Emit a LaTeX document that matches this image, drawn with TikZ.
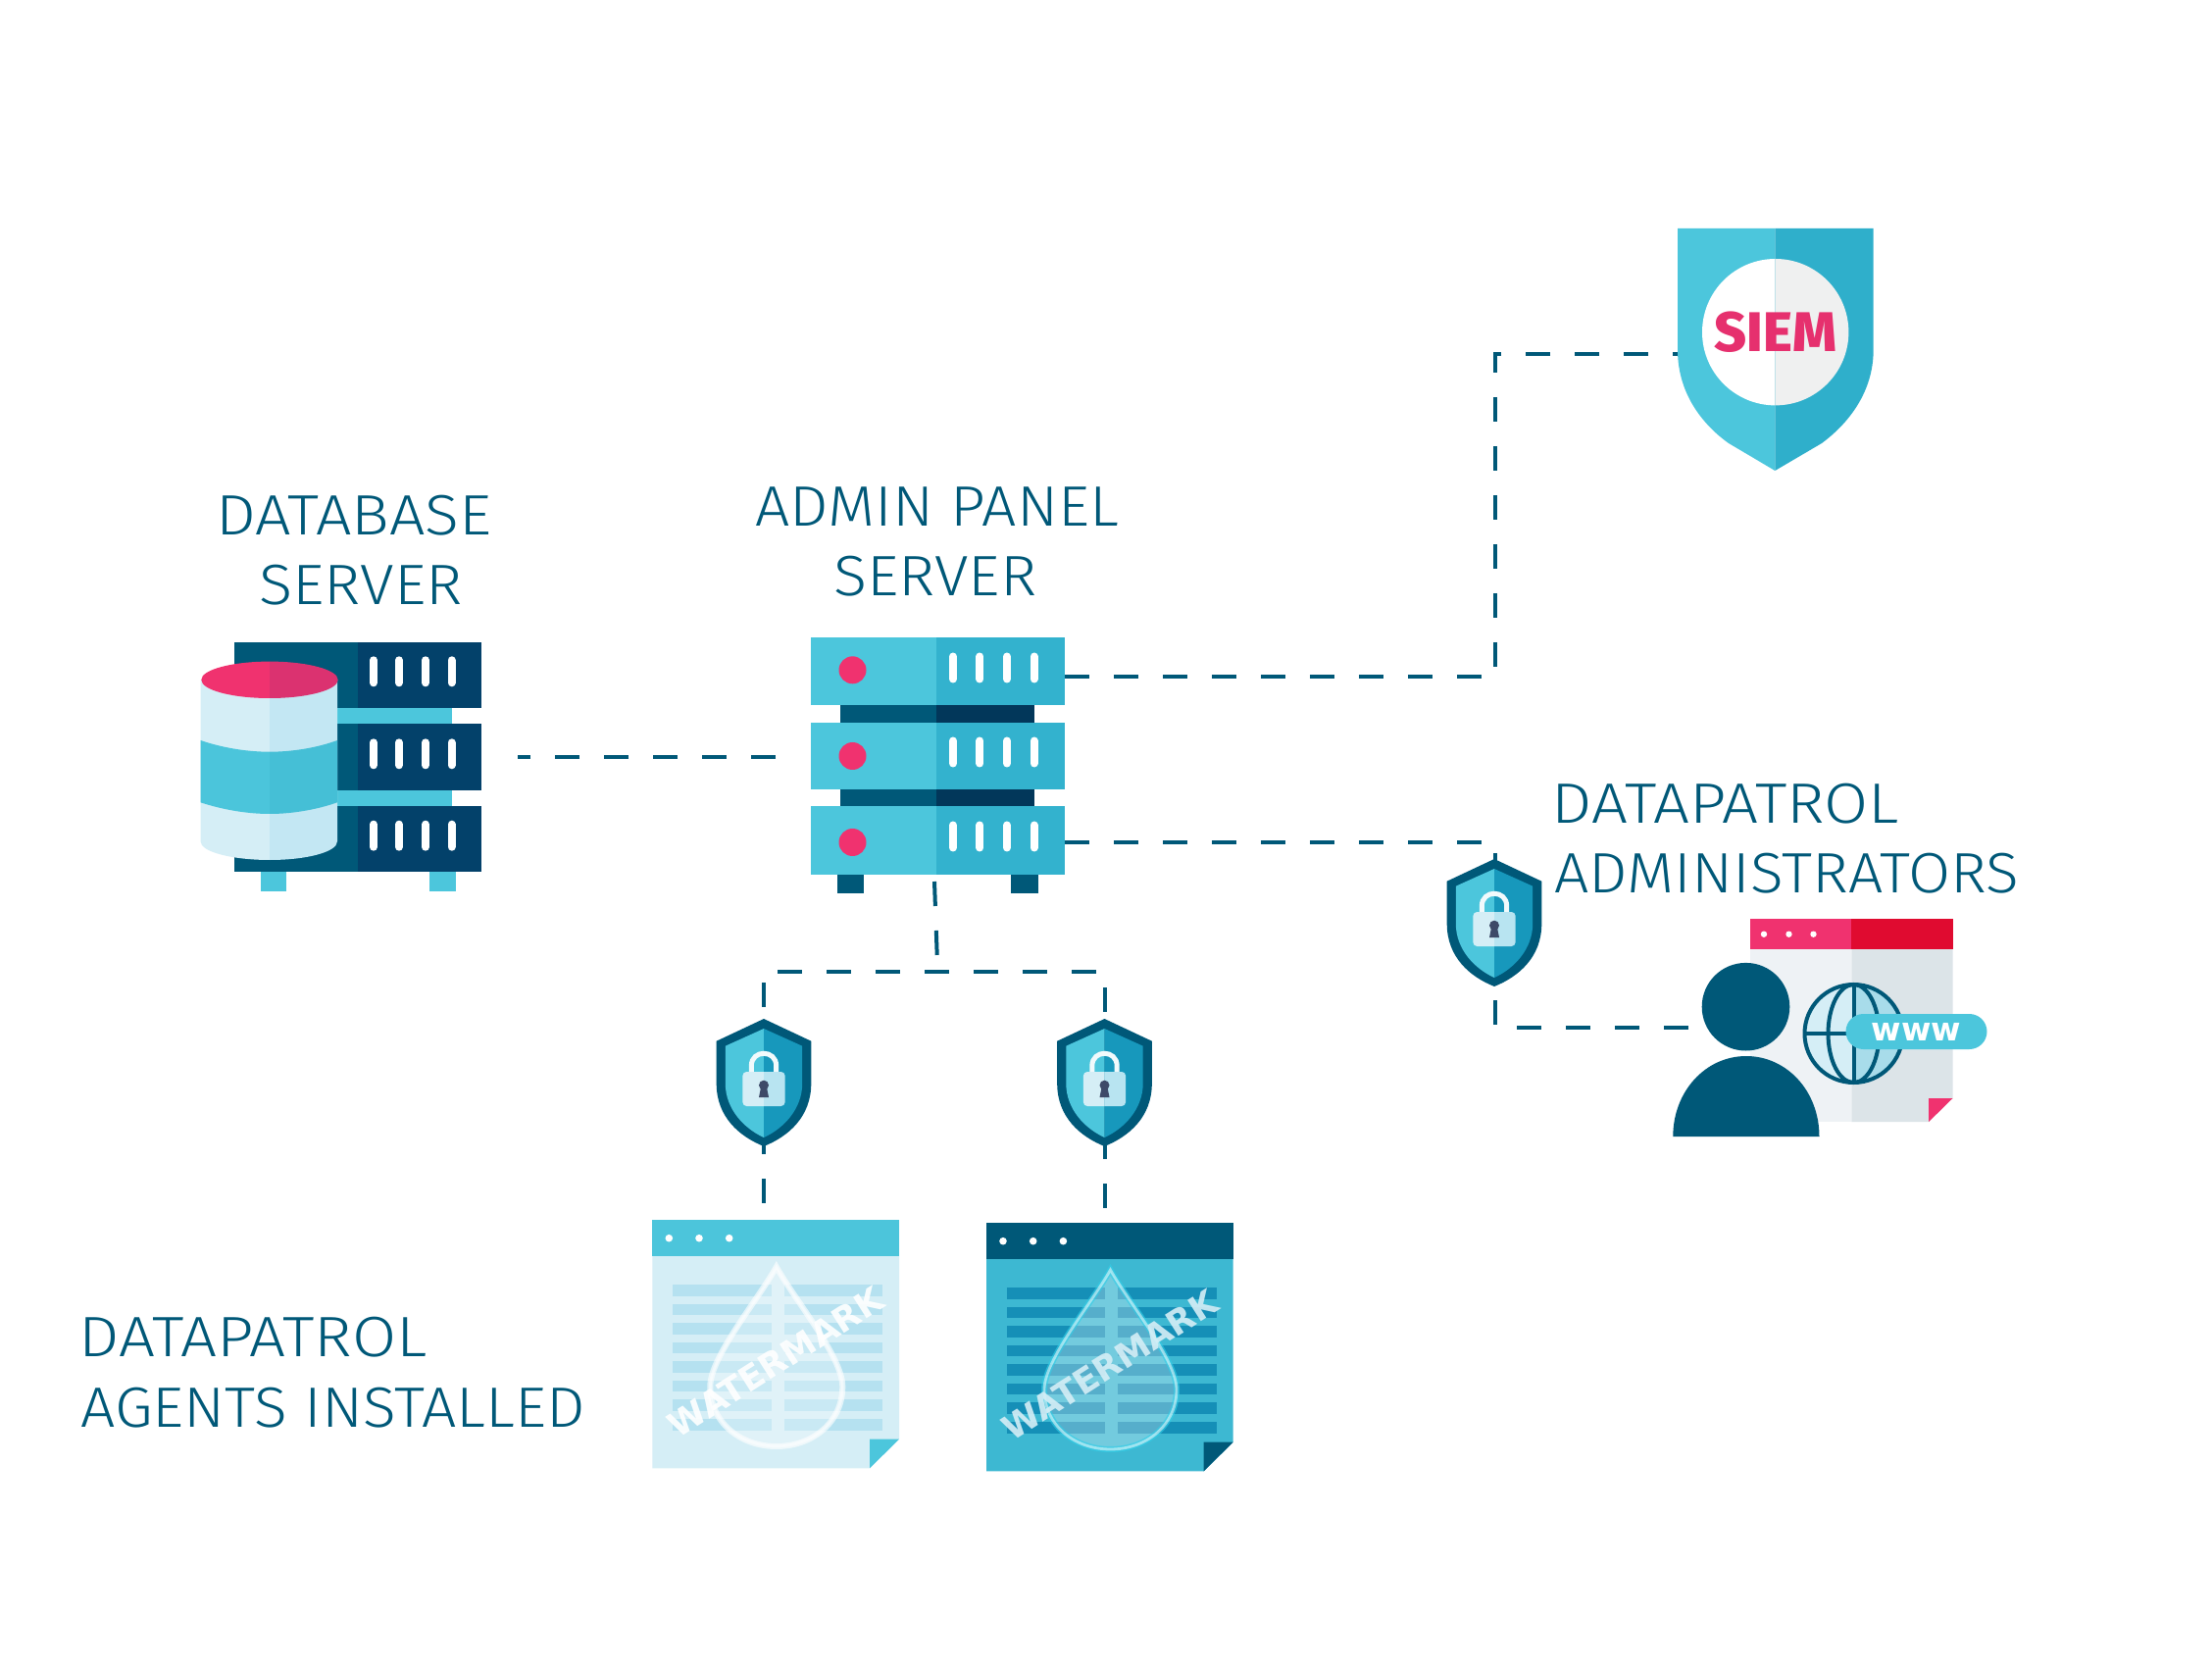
\documentclass[tikz,border=0pt]{standalone}
\usepackage{graphicx}
\usepackage{fontspec}
\setmainfont{Fira Sans Light}
\newfontfamily\labelfont{Fira Sans Light}
\newfontfamily\heavyfont{Fira Sans ExtraBold}
\newfontfamily\markfont{DejaVu Sans Bold}
\definecolor{navy}{HTML}{005878}
\definecolor{navyD}{HTML}{03416A}
\definecolor{navyE}{HTML}{02375A}
\definecolor{cyanL}{HTML}{4CC6DC}
\definecolor{cyanD}{HTML}{33B2CE}
\definecolor{pinkA}{HTML}{F0326F}
\definecolor{redA}{HTML}{E00B30}
\definecolor{paleA}{HTML}{D5EEF6}
\definecolor{paleB}{HTML}{C3E7F3}
\definecolor{shieldR}{HTML}{1798BC}
\definecolor{lockR}{HTML}{B8E4F1}
\definecolor{keyh}{HTML}{3D4A68}
\definecolor{bandL}{HTML}{4BC5DB}
\definecolor{bandR}{HTML}{45BFD6}
\definecolor{topR}{HTML}{DB3270}
\definecolor{siemR}{HTML}{2FAFCB}
\definecolor{greyR}{HTML}{EFF0F0}
\definecolor{siemT}{HTML}{E6306E}
\definecolor{docHdr}{HTML}{4CC5DB}
\definecolor{docRow}{HTML}{B5E1F0}
\definecolor{docB}{HTML}{3DB8D2}
\definecolor{docBRow}{HTML}{158FB7}
\definecolor{dropC}{HTML}{30CFE8}
\definecolor{webL}{HTML}{EEF2F5}
\definecolor{webR}{HTML}{DCE4E8}
\definecolor{globeR}{HTML}{A8DCEA}
\tikzset{
  link/.style={draw=navy,line width=2pt,dash pattern=on 12.5pt off 12.5pt},
  lbl/.style={anchor=base west,inner sep=0pt,text=navy,font=\labelfont\fontsize{29}{35}\selectfont},
  slot/.style={line cap=round,line width=4pt,draw=white}
}
\newcommand{\lab}[2]{\resizebox{\dimexpr#1pt/2\relax}{\height}{#2}}
\newcommand{\rackslots}[5]{%
  \foreach \sx in {#1,#2,#3,#4}{\draw[slot] (\sx,#5) -- ++(0,23);}
}
\newcommand{\lockshield}[2]{%
\begin{scope}[shift={(#1,#2)}]
  \def\outer{(0,0) -- (48.3,22.7) -- (48.3,66) .. controls (48.3,100) and (25,120) .. (0,130) .. controls (-25,120) and (-48.3,100) .. (-48.3,66) -- (-48.3,22.7) -- cycle}
  \def\inner{(0,10) -- (39.2,27.7) -- (39.2,66) .. controls (39.2,92) and (20,112) .. (0,121) .. controls (-20,112) and (-39.2,92) .. (-39.2,66) -- (-39.2,27.7) -- cycle}
  \fill[navy] \outer;
  \begin{scope}\clip (-50,0) rectangle (0,135); \fill[cyanL] \inner; \end{scope}
  \begin{scope}\clip (0,0) rectangle (50,135); \fill[shieldR] \inner; \end{scope}
  \draw[line width=2.5pt,draw=white!92!cyanL] (-12.7,56) -- (-12.7,48) .. controls (-12.7,31) and (12.7,31) .. (12.7,48) -- (12.7,56);
  \begin{scope}\clip (-25,50) rectangle (0,95); \fill[paleA,rounded corners=2pt] (-21.6,54) rectangle (21.6,89); \end{scope}
  \begin{scope}\clip (0,50) rectangle (25,95); \fill[lockR,rounded corners=2pt] (-21.6,54) rectangle (21.6,89); \end{scope}
  \fill[keyh] (0,67.7) circle [radius=5];
  \fill[keyh] (-3,70) -- (3,70) -- (5,80) -- (-5,80) -- cycle;
\end{scope}}
\newcommand{\wmdoc}[8]{%
\begin{scope}[shift={(#1,#2)}]
  \fill[#3] (0,0) -- (251.7,0) -- (251.7,223.7) -- (221.7,253.3) -- (0,253.3) -- cycle;
  \fill[#4] (0,0) rectangle (251.7,36.7);
  \foreach \dx in {17,47.7,78.4}{\fill[white] (\dx,18.7) circle [radius=3.8];}
  \foreach \k in {0,...,7}{
    \fill[#5] (20.7,66+19.55*\k) rectangle (121.2,77.7+19.55*\k);
    \fill[#5] (134.3,66+19.55*\k) rectangle (234.7,77.7+19.55*\k);
  }
  \fill[#6] (221.7,223.7) -- (251.7,223.7) -- (221.7,253.3) -- cycle;
  \def\drop{(126.5,48) .. controls (106,84) and (59,140) .. (59,170) .. controls (59,206) and (89,231) .. (126.5,231) .. controls (164,231) and (194,206) .. (194,170) .. controls (194,140) and (147,84) .. (126.5,48) -- cycle}
  \fill[white,fill opacity=.28] \drop;
  \draw[#7,line width=3pt,draw opacity=.6] \drop;
  \draw[white,line width=1.4pt,draw opacity=.5] \drop;
  \node[text=#8,text opacity=.9,rotate=32.5,font=\markfont\fontsize{17.5}{20}\selectfont,inner sep=0pt] at (126,145) {WATERMARK};
\end{scope}}
\begin{document}
\begin{tikzpicture}[x=.5pt,y=-.5pt]
\useasboundingbox (0,0) rectangle (2256,1700);
\fill[white] (0,0) rectangle (2256,1700);
% ---------- connector anchors
\coordinate (dbEnd) at (528,772);
\coordinate (adminL) at (791,772);
\coordinate (adminT) at (1086,690);
\coordinate (adminTe) at (1511,690);
\coordinate (adminB) at (1086,859);
\coordinate (adminBe) at (1511,859);
\coordinate (siemA) at (1731,361);
\coordinate (siemB) at (1525,361);
\coordinate (siemC) at (1525,680);
\coordinate (admA) at (1525,870);
\coordinate (admB) at (1525,1048);
\coordinate (admC) at (1723,1048);
\coordinate (stubA) at (953,899);
\coordinate (stubB) at (955.7,974);
\coordinate (busL) at (793,991);
\coordinate (busR) at (1118,991);
\coordinate (dropLa) at (779,1002);
\coordinate (dropLb) at (779,1227);
\coordinate (dropRa) at (1127,1007);
\coordinate (dropRb) at (1127,1232);
% ---------- connectors
\draw[link] (adminL) -- (dbEnd);
\draw[link] (adminT) -- (adminTe);
\draw[link] (adminB) -- (adminBe);
\draw[link] (siemA) -- (siemB) -- (siemC);
\draw[link] (admA) -- (admB) -- (admC);
\draw[link] (stubA) -- (stubB);
\draw[link] (busL) -- (busR);
\draw[link] (dropLa) -- (dropLb);
\draw[link] (dropRa) -- (dropRb);
% ---------- database server
\fill[cyanL] (266,889) rectangle (292,908.7);
\fill[cyanL] (438,889) rectangle (465,908.7);
\fill[cyanL] (340,722) rectangle (461,739);
\fill[cyanL] (340,805) rectangle (461,823);
\foreach \ya/\yb in {655/722.3,738.3/805.7,822/889.3}{
  \fill[navy] (238.8,\ya) rectangle (365,\yb);
  \fill[navyD] (365,\ya) rectangle (491,\yb);
}
\foreach \yy in {673.3,757.3,840.7}{\rackslots{381}{407}{434}{460.5}{\yy}}
\def\cylbody{(204.5,693.3) -- (204.5,858) .. controls (204.5,869) and (238,877) .. (275,877) .. controls (312,877) and (344,869) .. (344,858) -- (344,693.3) -- cycle}
\def\cylband{(204.5,755) .. controls (225,762) and (250,766.7) .. (275,766.7) .. controls (300,766.7) and (325,762) .. (344,755) -- (344,818.3) .. controls (325,825) and (300,830) .. (275,830) .. controls (250,830) and (225,825) .. (204.5,818.3) -- cycle}
\begin{scope}
  \clip (200,660) rectangle (275,880);
  \fill[paleA] \cylbody; \fill[bandL] \cylband;
  \fill[pinkA] (275,693.3) ellipse [x radius=69.7,y radius=18.7];
\end{scope}
\begin{scope}
  \clip (275,660) rectangle (350,880);
  \fill[paleB] \cylbody; \fill[bandR] \cylband;
  \fill[topR] (275,693.3) ellipse [x radius=69.7,y radius=18.7];
\end{scope}
% ---------- admin panel server
\fill[navy] (853.6,891) rectangle (881,911.3);
\fill[navy] (1031,891) rectangle (1059,911.3);
\fill[navy] (857,719) rectangle (955,737);
\fill[navyE] (955,719) rectangle (1055,737);
\fill[navy] (857,805) rectangle (955,823);
\fill[navyE] (955,805) rectangle (1055,823);
\foreach \ya/\yb in {650.3/719.3,736.7/805.3,822.3/891.7}{
  \fill[cyanL] (826.7,\ya) rectangle (955,\yb);
  \fill[cyanD] (955,\ya) rectangle (1085.7,\yb);
}
\foreach \yy in {683.3,771,859}{\fill[pinkA] (869.5,\yy) circle [radius=14];}
\foreach \yy in {669.5,755.5,841.5}{\rackslots{972}{999.4}{1027}{1054.5}{\yy}}
% ---------- SIEM shield
\def\siemshape{(1711,233) -- (1910.7,233) -- (1910.7,356.7) .. controls (1910.7,400) and (1885,432) .. (1858,452) -- (1810.3,480) -- (1763,452) .. controls (1735,432) and (1711,400) .. (1711,356.7) -- cycle}
\begin{scope}\clip (1700,220) rectangle (1810.3,490); \fill[cyanL] \siemshape; \fill[white] (1810.7,338.7) circle [radius=74.7]; \end{scope}
\begin{scope}\clip (1810.3,220) rectangle (1920,490); \fill[siemR] \siemshape; \fill[greyR] (1810.7,338.7) circle [radius=74.7]; \end{scope}
\node[inner sep=0pt,text=siemT,font=\heavyfont\fontsize{28.5}{30}\selectfont] (siem) at (1810.7,338.5) {SIEM};
% ---------- lock shields
\lockshield{779}{1039}
\lockshield{1126.5}{1039}
\lockshield{1524}{876}
% ---------- watermarked documents
\wmdoc{665.3}{1244}{paleA}{docHdr}{docRow}{cyanL}{white}{white}
\wmdoc{1006}{1247}{docB}{navy}{docBRow}{navy}{dropC}{paleA}
% ---------- administrators
\begin{scope}[shift={(-2.5,0)}]
\fill[webL] (1787.7,968) rectangle (1890.8,1144);
\fill[webR] (1890.8,968) -- (1994,968) -- (1994,1120) -- (1969.6,1144) -- (1890.8,1144) -- cycle;
\fill[pinkA] (1787.7,937) rectangle (1890.8,968);
\fill[redA] (1890.8,937) rectangle (1994,968);
\fill[pinkA] (1969.6,1120) -- (1994,1120) -- (1969.6,1144) -- cycle;
\foreach \dx in {1801.5,1827,1852}{\fill[white] (\dx,952.7) circle [radius=3.2];}
\begin{scope}\clip (1893,1054) circle [radius=50];
  \fill[paleA] (1840,1000) rectangle (1893,1110);
  \fill[globeR] (1893,1000) rectangle (1950,1110);
\end{scope}
\draw[navy,line width=2pt] (1893,1054) circle [radius=50];
\draw[navy,line width=2pt] (1893,1054) ellipse [x radius=26,y radius=50];
\draw[navy,line width=2pt] (1843,1054) -- (1943,1054);
\draw[navy,line width=2pt] (1893,1004) -- (1893,1104);
\fill[navy] (1783,1026.7) circle [radius=44.8];
\fill[navy] (1708.8,1159) .. controls (1708.8,1113) and (1742,1077) .. (1783.4,1077) .. controls (1825,1077) and (1858,1113) .. (1858,1159) -- cycle;
\node[fill=cyanL,rounded corners=9pt,minimum width=72pt,minimum height=18pt,inner sep=0pt,text=white,font=\markfont\fontsize{16.5}{20}\selectfont] (www) at (1957,1052) {www};
\end{scope}
% ---------- labels
\node[lbl] (t1) at (220,545.7) {\lab{281}{DATABASE}};
\node[lbl] (t2) at (264,616.7) {\lab{207.5}{SERVER}};
\node[lbl] (t3) at (770,536.7) {\lab{370.5}{ADMIN PANEL}};
\node[lbl] (t4) at (850,607.3) {\lab{207}{SERVER}};
\node[lbl] (t5) at (1582.5,840) {\lab{354}{DATAPATROL}};
\node[lbl] (t6) at (1585,910.7) {\lab{474}{ADMINISTRATORS}};
\node[lbl] (t7) at (80.5,1383.3) {\lab{354.5}{DATAPATROL}};
\node[lbl] (t8) at (82,1455) {\lab{514}{AGENTS INSTALLED}};
\end{tikzpicture}
\end{document}
